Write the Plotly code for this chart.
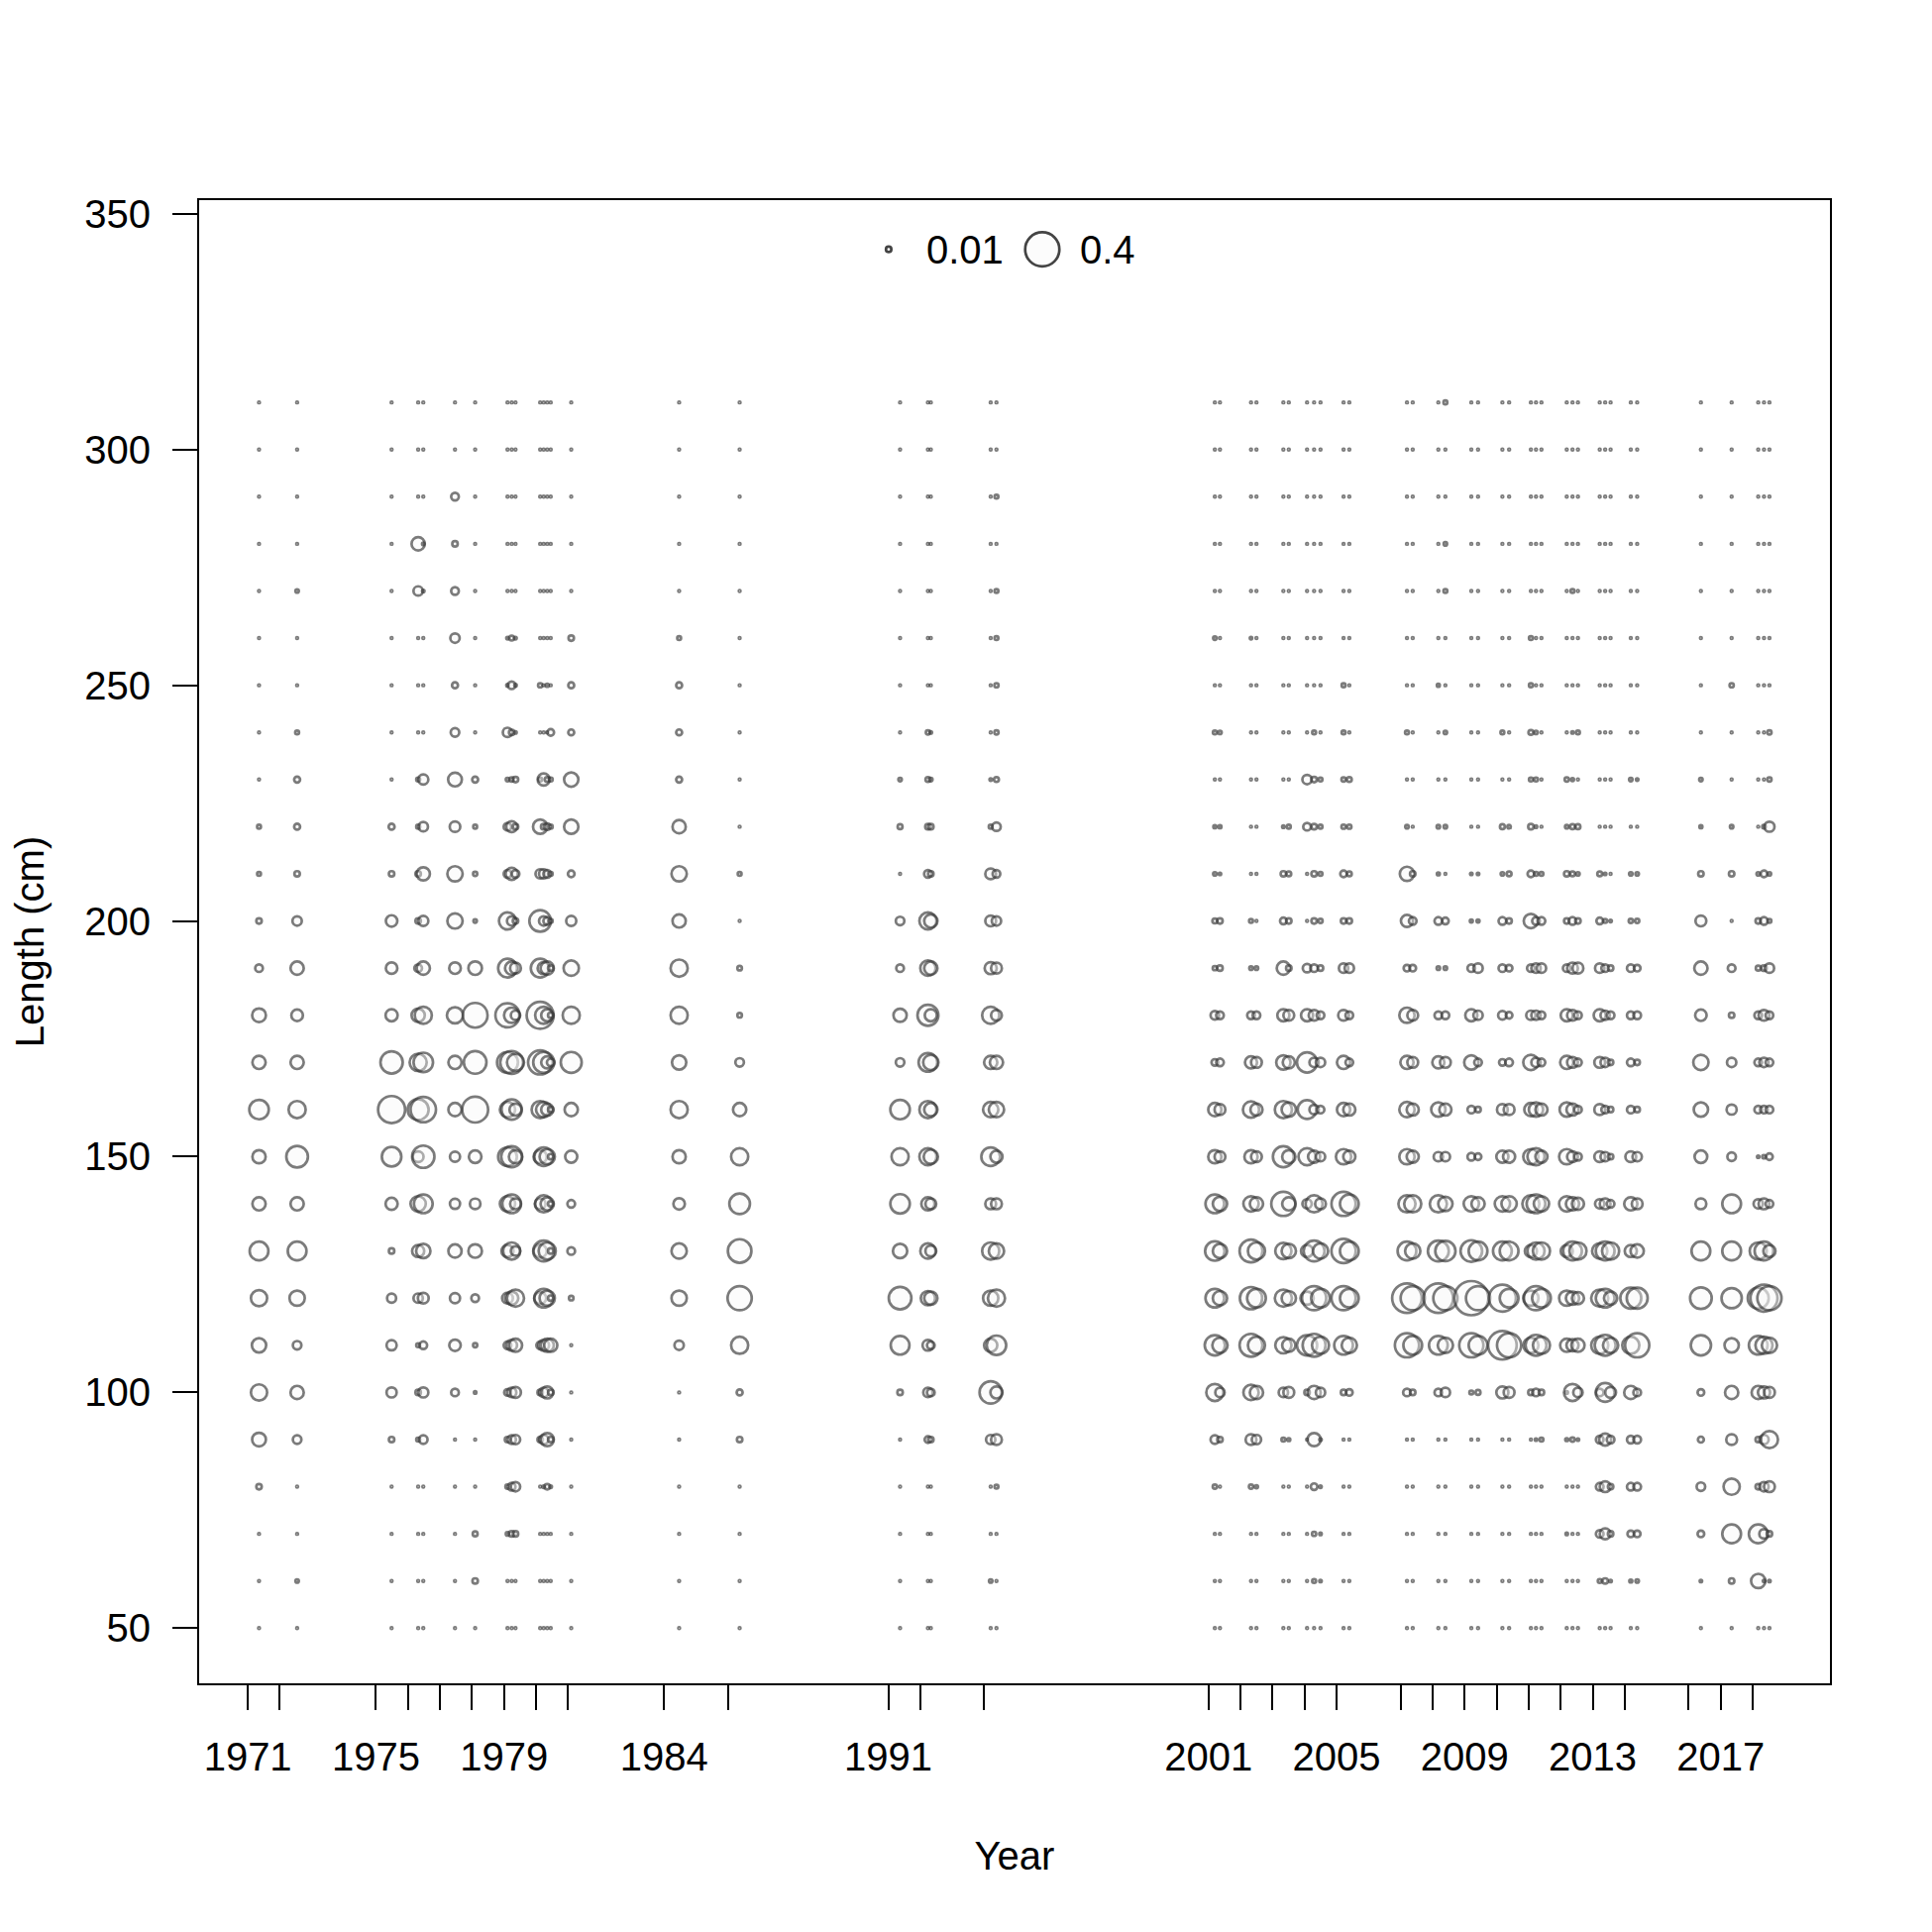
import numpy as np
import plotly.graph_objects as go

# ---------------- data ----------------
lengths = list(range(50, 320, 10))  # length bins (cm)
tick_years = [1971, 1972, 1975, 1976, 1977, 1978, 1979, 1980, 1981, 1984, 1986,
              1991, 1992, 1994, 2001, 2002, 2003, 2004, 2005, 2007, 2008, 2009,
              2010, 2011, 2012, 2013, 2014, 2016, 2017, 2018]
labelled_years = [1971, 1975, 1979, 1984, 1991, 2001, 2005, 2009, 2013, 2017]
y_ticks = [50, 100, 150, 200, 250, 300, 350]
legend_values = [0.01, 0.4]

# each entry: (sample time, proportions for lengths 50..310)
yr1971 = [(1971.35, [.001,.001,.001,.01,.065, .09,.07,.09,.12,.06, .06,.13,.06,.065,.02, .01,.005,.005,.001,.001, .001,.001,.001,.001,.001, .001,.001])]
yr1972 = [(1972.54, [.001,.004,.001,.001,.025, .06,.025,.08,.12,.06, .16,.1,.06,.046,.06, .03,.01,.012,.012,.005, .001,.001,.004,.001,.001, .001,.001])]
yr1975 = [(1975.49, [.001,.001,.001,.001,.01, .035,.035,.028,.01,.05, .13,.25,.17,.05,.045, .045,.01,.012,.001,.001, .001,.001,.001,.001,.001, .001,.001])]
yr1976 = [(1976.32, [.001,.001,.001,.001,.005, .01,.005,.03,.05,.08, .04,.15,.1,.06,.02, .01,.01,.005,.005,.001, .001,.001,.03,.06,.001, .001,.001]),
          (1976.48, [.001,.001,.001,.001,.025, .035,.02,.04,.07,.12, .17,.22,.13,.1,.06, .035,.06,.03,.035,.001, .001,.001,.002,.002,.001, .001,.001])]
yr1977 = [(1977.47, [.001,.001,.001,.001,.001, .02,.045,.035,.06,.035, .035,.06,.06,.09,.046, .08,.08,.038,.065,.025, .012,.03,.02,.01,.02, .001,.001])]
yr1978 = [(1978.10, [.001,.01,.008,.001,.001, .002,.006,.02,.063,.038, .054,.23,.175,.21,.063, .004,.006,.005,.012,.001, .001,.001,.001,.001,.001, .001,.001])]
yr1979 = [(1979.11, [.001,.001,.004,.006,.01, .015,.02,.04,.05,.08, .12,.08,.15,.2,.12, .1,.02,.02,.004,.03, .002,.002,.001,.001,.001, .001,.001]),
          (1979.24, [.001,.001,.01,.02,.025, .03,.04,.06,.1,.12, .15,.14,.18,.08,.06, .03,.05,.04,.006,.01, .02,.008,.001,.001,.001, .001,.001]),
          (1979.36, [.001,.001,.01,.03,.03, .04,.06,.1,.03,.04, .06,.05,.1,.03,.04, .01,.02,.01,.01,.002, .002,.002,.001,.001,.001, .001,.001])]
yr1980 = [(1980.13, [.001,.001,.001,.001,.01, .01,.02,.05,.06,.04, .06,.1,.2,.25,.12, .16,.03,.07,.005,.001, .006,.001,.001,.001,.001, .001,.001]),
          (1980.24, [.001,.001,.001,.002,.03, .03,.04,.12,.15,.1, .12,.08,.15,.1,.05, .03,.03,.01,.05,.001, .001,.001,.001,.001,.001, .001,.001]),
          (1980.35, [.001,.001,.001,.01,.06, .05,.06,.08,.1,.06, .08,.05,.05,.05,.06, .02,.02,.015,.008,.001, .003,.001,.001,.001,.001, .001,.001]),
          (1980.46, [.001,.001,.001,.002,.01, .01,.06,.01,.01,.01, .01,.01,.02,.01,.01, .005,.005,.005,.005,.015, .001,.001,.001,.001,.001, .001,.001])]
yr1981 = [(1981.10, [.001,.001,.001,.001,.001, .001,.001,.007,.02,.02, .05,.06,.15,.1,.08, .035,.015,.07,.07,.012, .012,.01,.001,.001,.001, .001,.001])]
yr1984 = [(1984.47, [.001,.001,.001,.001,.001, .001,.03,.08,.08,.045, .06,.1,.07,.1,.1, .06,.08,.06,.012,.012, .012,.005,.001,.001,.001, .001,.001])]
yr1986 = [(1986.36, [.001,.001,.001,.001,.01, .012,.1,.2,.19,.145, .1,.06,.025,.007,.007, .001,.005,.001,.001,.001, .001,.001,.001,.001,.001, .001,.001])]
yr1991 = [(1991.37, [.001,.001,.001,.001,.001, .01,.12,.175,.07,.13, .1,.13,.025,.06,.02, .025,.001,.008,.004,.001, .001,.001,.001,.001,.001, .001,.001])]
yr1992 = [(1992.24, [.001,.001,.001,.001,.015, .03,.04,.07,.08,.06, .1,.1,.12,.15,.08, .1,.02,.01,.008,.006, .001,.001,.001,.001,.001, .001,.001]),
          (1992.33, [.001,.001,.001,.001,.01, .02,.02,.06,.04,.04, .07,.06,.08,.05,.06, .06,.01,.01,.004,.002, .001,.001,.001,.001,.001, .001,.001])]
yr1994 = [(1994.20, [.001,.004,.001,.001,.03, .17,.06,.08,.1,.04, .12,.08,.06,.1,.05, .04,.04,.005,.002,.001, .001,.001,.001,.001,.001, .001,.001]),
          (1994.38, [.001,.001,.001,.005,.04, .05,.13,.1,.08,.04, .05,.08,.06,.04,.04, .03,.02,.025,.008,.006, .006,.005,.005,.001,.005, .001,.001])]
yr2001 = [(2001.20, [.001,.001,.001,.006,.025, .1,.14,.12,.13,.12, .06,.06,.015,.025,.006, .008,.004,.003,.001,.005, .001,.004,.001,.001,.001, .001,.001]),
          (2001.36, [.001,.001,.001,.001,.01, .03,.08,.07,.07,.07, .04,.04,.02,.02,.01, .01,.002,.003,.001,.004, .001,.001,.001,.001,.001, .001,.001])]
yr2002 = [(2002.33, [.001,.001,.001,.006,.04, .08,.18,.17,.18,.08, .06,.09,.05,.02,.004, .005,.001,.001,.001,.001, .001,.002,.001,.001,.001, .001,.001]),
          (2002.50, [.001,.001,.001,.003,.03, .06,.1,.12,.1,.06, .04,.05,.04,.02,.004, .001,.001,.001,.001,.001, .001,.001,.001,.001,.001, .001,.001])]
yr2003 = [(2003.34, [.001,.001,.001,.001,.005, .03,.09,.1,.09,.2, .15,.1,.07,.05,.06, .015,.01,.002,.001,.001, .001,.001,.001,.001,.001, .001,.001]),
          (2003.51, [.001,.001,.001,.001,.003, .04,.06,.07,.07,.06, .06,.07,.05,.04,.01, .01,.008,.005,.001,.001, .001,.001,.001,.001,.001, .001,.001])]
yr2004 = [(2004.08, [.001,.001,.001,.001,.001, .01,.14,.06,.05,.03, .1,.12,.14,.05,.025, .001,.001,.02,.03,.001, .001,.001,.001,.001,.001, .001,.001]),
          (2004.30, [.001,.005,.006,.015,.06, .06,.18,.2,.15,.1, .05,.03,.03,.04,.02, .01,.01,.01,.01,.005, .001,.001,.001,.001,.001, .001,.001]),
          (2004.50, [.001,.002,.002,.002,.002, .03,.1,.12,.08,.04, .03,.02,.03,.02,.01, .006,.005,.005,.005,.001, .001,.001,.001,.001,.001, .001,.001])]
yr2005 = [(2005.22, [.001,.001,.001,.001,.001, .01,.12,.2,.2,.2, .08,.06,.06,.04,.03, .01,.015,.006,.006,.005, .005,.001,.001,.001,.001, .001,.001]),
          (2005.40, [.001,.001,.001,.001,.001, .015,.08,.12,.12,.12, .05,.05,.02,.02,.03, .01,.008,.006,.008,.001, .001,.001,.001,.001,.001, .001,.001])]
yr2007 = [(2007.20, [.001,.001,.001,.001,.001, .02,.2,.3,.12,.1, .08,.08,.06,.08,.015, .05,.07,.004,.001,.005, .001,.001,.001,.001,.001, .001,.001]),
          (2007.38, [.001,.001,.001,.001,.001, .01,.12,.2,.08,.1, .05,.05,.04,.04,.015, .02,.01,.001,.001,.001, .001,.001,.001,.001,.001, .001,.001])]
yr2008 = [(2008.18, [.001,.001,.001,.001,.001, .02,.12,.3,.15,.1, .03,.07,.05,.02,.004, .02,.003,.004,.001,.001, .003,.001,.001,.001,.001, .001,.001]),
          (2008.40, [.001,.001,.001,.001,.001, .03,.08,.2,.14,.07, .03,.05,.04,.02,.004, .015,.001,.004,.001,.004, .001,.001,.005,.004,.001, .001,.005])]
yr2009 = [(2009.21, [.001,.001,.001,.001,.001, .005,.2,.4,.16,.08, .02,.02,.07,.05,.02, .003,.002,.001,.001,.001, .001,.001,.001,.001,.001, .001,.001]),
          (2009.42, [.001,.001,.001,.001,.001, .008,.12,.2,.12,.06, .015,.01,.02,.03,.03, .003,.002,.001,.001,.001, .001,.001,.001,.001,.001, .001,.001])]
yr2010 = [(2010.18, [.001,.001,.001,.001,.001, .05,.28,.25,.12,.08, .05,.04,.015,.025,.02, .02,.004,.008,.001,.005, .001,.001,.001,.001,.001, .001,.001]),
          (2010.39, [.001,.001,.001,.001,.001, .04,.2,.12,.12,.08, .05,.04,.02,.015,.015, .01,.008,.004,.001,.001, .001,.001,.001,.001,.001, .001,.001])]
yr2011 = [(2011.07, [.001,.001,.001,.001,.001, .01,.08,.08,.05,.1, .08,.06,.08,.03,.02, .07,.015,.01,.005,.008, .005,.005,.001,.001,.001, .001,.001]),
          (2011.23, [.001,.001,.001,.001,.002, .02,.15,.2,.1,.12, .1,.07,.03,.03,.03, .02,.005,.002,.005,.004, .001,.001,.001,.001,.001, .001,.001]),
          (2011.40, [.001,.001,.001,.001,.005, .01,.1,.12,.1,.08, .05,.05,.02,.02,.03, .02,.005,.001,.001,.001, .001,.001,.001,.001,.001, .001,.001])]
yr2012 = [(2012.19, [.001,.001,.002,.001,.003, .002,.06,.08,.05,.08, .08,.07,.06,.05,.02, .01,.01,.004,.006,.001, .001,.001,.001,.001,.001, .001,.001]),
          (2012.37, [.001,.001,.001,.001,.006, .1,.05,.06,.12,.06, .04,.05,.04,.04,.04, .02,.008,.008,.003,.002, .001,.001,.005,.001,.001, .001,.001]),
          (2012.54, [.001,.001,.001,.001,.002, .03,.06,.05,.1,.05, .02,.02,.02,.02,.04, .01,.004,.008,.001,.005, .001,.001,.001,.001,.001, .001,.001])]
yr2013 = [(2013.22, [.001,.005,.02,.02,.02, .02,.1,.1,.08,.03, .04,.04,.04,.05,.03, .015,.008,.001,.001,.001, .001,.001,.001,.001,.001, .001,.001]),
          (2013.39, [.001,.01,.04,.04,.05, .12,.15,.12,.12,.04, .03,.02,.03,.03,.02, .005,.002,.001,.001,.001, .001,.001,.001,.001,.001, .001,.001]),
          (2013.56, [.001,.002,.01,.01,.02, .04,.08,.06,.1,.02, .01,.01,.01,.02,.01, .002,.001,.001,.001,.001, .001,.001,.001,.001,.001, .001,.001])]
yr2014 = [(2014.19, [.001,.003,.015,.02,.02, .06,.1,.15,.05,.06, .04,.02,.02,.02,.02, .006,.004,.001,.004,.001, .001,.001,.001,.001,.001, .001,.001]),
          (2014.39, [.001,.004,.015,.02,.02, .02,.2,.15,.06,.04, .03,.01,.01,.02,.015, .006,.004,.001,.002,.001, .001,.001,.001,.001,.001, .001,.001])]
yr2016 = [(2016.38, [.001,.002,.015,.025,.012, .015,.14,.16,.12,.04, .055,.07,.08,.045,.06, .04,.01,.003,.004,.001, .001,.001,.001,.001,.001, .001,.001])]
yr2017 = [(2017.34, [.001,.01,.12,.09,.04, .06,.07,.14,.12,.12, .025,.035,.03,.01,.02, .001,.01,.004,.001,.001, .006,.001,.001,.001,.001, .001,.001])]
yr2018 = [(2018.17, [.001,.07,.12,.01,.01, .06,.12,.15,.1,.03, .002,.02,.02,.02,.008, .01,.004,.001,.001,.001, .001,.001,.001,.001,.001, .001,.001]),
          (2018.35, [.001,.002,.03,.03,.03, .05,.1,.25,.12,.04, .004,.02,.03,.04,.01, .02,.015,.004,.001,.001, .001,.001,.001,.001,.001, .001,.001]),
          (2018.52, [.001,.002,.01,.04,.1, .04,.08,.2,.05,.02, .015,.02,.02,.02,.03, .005,.004,.035,.006,.006, .001,.001,.001,.001,.001, .001,.001])]

samples = (yr1971 + yr1972 + yr1975 + yr1976 + yr1977 + yr1978 + yr1979 + yr1980 +
           yr1981 + yr1984 + yr1986 + yr1991 + yr1992 + yr1994 + yr2001 + yr2002 +
           yr2003 + yr2004 + yr2005 + yr2007 + yr2008 + yr2009 + yr2010 + yr2011 +
           yr2012 + yr2013 + yr2014 + yr2016 + yr2017 + yr2018)

# ---------------- build ----------------
MAX_D = 34.5   # marker diameter (px) for the largest legend value
REF = max(legend_values)


def diam(v):
    return MAX_D * np.sqrt(v / REF)


xs, ys, sz = [], [], []
for t, props in samples:
    assert len(props) == len(lengths), (t, len(props))
    for L, p in zip(lengths, props):
        xs.append(t)
        ys.append(L)
        sz.append(diam(p))

FILL = "rgba(250,250,250,0.55)"
EDGE = "rgba(58,58,58,0.95)"
LW = 2.7
FONT = "Liberation Sans, Arial, sans-serif"
FS = 40

fig = go.Figure()
fig.add_trace(go.Scatter(
    x=xs, y=ys, mode="markers", hoverinfo="skip", showlegend=False,
    marker=dict(size=sz, sizemode="diameter", color=FILL,
                line=dict(color=EDGE, width=LW))))

ticktext = [str(y) if y in labelled_years else "" for y in tick_years]

# the page body has an 8px margin, so margins are offset accordingly
fig.update_layout(
    width=1950, height=1950,
    margin=dict(l=193, r=111, t=194, b=259),
    paper_bgcolor="white", plot_bgcolor="white",
    font=dict(family=FONT, size=FS, color="black"),
    showlegend=False,
    xaxis=dict(range=[1969.48, 2020.41], tickvals=tick_years, ticktext=ticktext,
               ticks="outside", ticklen=25, tickwidth=2, tickcolor="black",
               showline=True, linecolor="black", linewidth=2, mirror=True,
               showgrid=False, zeroline=False, ticklabelstandoff=13,
               tickfont=dict(size=FS, family=FONT, color="black"),
               title=dict(text="Year", font=dict(size=FS, family=FONT), standoff=65)),
    yaxis=dict(range=[38.3, 352.9], tickvals=y_ticks,
               ticks="outside", ticklen=25, tickwidth=2, tickcolor="black",
               showline=True, linecolor="black", linewidth=2, mirror=True,
               showgrid=False, zeroline=False, ticklabelstandoff=14,
               tickfont=dict(size=FS, family=FONT, color="black"),
               title=dict(text="Length (cm)", font=dict(size=FS, family=FONT), standoff=30)),
)

# bubble-size legend (top of the panel)
leg_x = [0.4228, 0.5170]
leg_tx = [0.4446, 0.5388]
leg_y = 0.9668
for v, cx, tx in zip(legend_values, leg_x, leg_tx):
    r = diam(v) / 2
    fig.add_shape(type="circle", xref="paper", yref="paper",
                  xsizemode="pixel", ysizemode="pixel",
                  xanchor=cx, yanchor=leg_y, x0=-r, x1=r, y0=-r, y1=r,
                  line=dict(color=EDGE, width=LW), fillcolor=FILL)
    fig.add_annotation(x=tx, y=leg_y, xref="paper", yref="paper", text=str(v),
                       showarrow=False, xanchor="left", yanchor="middle",
                       font=dict(size=FS, family=FONT, color="black"))

fig.write_html("out.html")
